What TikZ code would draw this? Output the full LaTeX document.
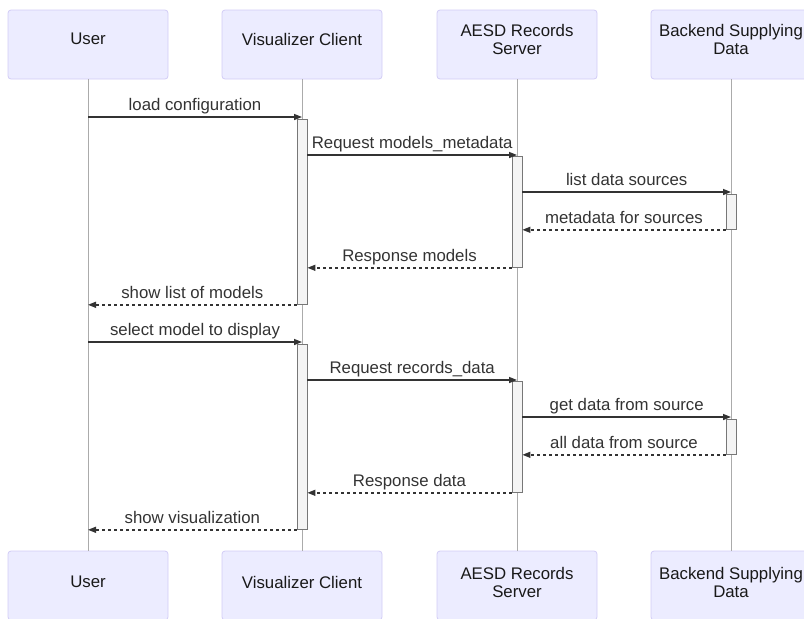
\documentclass[tikz,border=0pt]{standalone}
\usepackage{fontspec}
\setmainfont{Liberation Sans}
\usetikzlibrary{arrows.meta}
\definecolor{actorfill}{HTML}{ECECFF}
\definecolor{actorline}{HTML}{D2CCF6}
\definecolor{lifegray}{HTML}{ABABAB}
\definecolor{barfill}{HTML}{F4F4F4}
\definecolor{bargray}{HTML}{777777}
\definecolor{msggray}{HTML}{333333}
\begin{document}
\begin{tikzpicture}[x=1pt,y=-1pt,
    actor/.style={draw=actorline, fill=actorfill, rounded corners=3pt, line width=0.8pt,
        minimum width=160pt, minimum height=69pt, inner sep=0pt},
    actortext/.style={align=center, text=black!90, font=\fontsize{16.8}{18}\selectfont},
    life/.style={draw=lifegray, line width=0.7pt},
    bar/.style={draw=bargray, fill=barfill, line width=0.8pt, anchor=north,
        minimum width=10pt, inner sep=0pt},
    call/.style={draw=msggray, line width=1.4pt, -{Triangle[length=8pt,width=6pt]}},
    reply/.style={call, dash pattern=on 3pt off 3pt},
    msgtext/.style={midway, anchor=base, yshift=6.5pt, text=msggray,
        font=\fontsize{16.8}{18}\selectfont}]
    \useasboundingbox (0,0) rectangle (804,619);
    \clip (0,0) rectangle (804,619);

    \node[actor] (user)    at (88,44.5)  {};
    \node[actor] (client)  at (302,44.5) {};
    \node[actor] (server)  at (517,44.5) {};
    \node[actor] (backend) at (731,44.5) {};
    \node[actor] (user b)    at (88,585.5)  {};
    \node[actor] (client b)  at (302,585.5) {};
    \node[actor] (server b)  at (517,585.5) {};
    \node[actor] (backend b) at (731,585.5) {};

    \node[actortext] (user t)      at ([yshift=5.5pt]user.center)      {User};
    \node[actortext] (client t)    at ([yshift=5.5pt]client.center)    {Visualizer Client};
    \node[actortext] (server t)    at ([yshift=5.5pt]server.center)    {AESD Records\\Server};
    \node[actortext] (backend t)   at ([yshift=5.5pt]backend.center)   {Backend Supplying\\Data};
    \node[actortext] (user bt)     at ([yshift=3.5pt]user b.center)    {User};
    \node[actortext] (client bt)   at ([yshift=3.5pt]client b.center)  {Visualizer Client};
    \node[actortext] (server bt)   at ([yshift=3.5pt]server b.center)  {AESD Records\\Server};
    \node[actortext] (backend bt)  at ([yshift=3.5pt]backend b.center) {Backend Supplying\\Data};

    \draw[life] (user.south)    -- (user b.north);
    \draw[life] (client.south)  -- (client b.north);
    \draw[life] (server.south)  -- (server b.north);
    \draw[life] (backend.south) -- (backend b.north);

    \node[bar, minimum height=185pt] (c1) at (302,119) {};
    \node[bar, minimum height=111pt] (s1) at (517,156) {};
    \node[bar, minimum height=35pt]  (b1) at (731,194) {};
    \node[bar, minimum height=185pt] (c2) at (302,344) {};
    \node[bar, minimum height=111pt] (s2) at (517,381) {};
    \node[bar, minimum height=35pt]  (b2) at (731,419) {};

    \draw[call]  (user |- 0,117) -- (client |- 0,117) node[msgtext] {load configuration};
    \draw[call]  (c1.east |- 0,155) -- (server |- 0,155) node[msgtext] {Request models\_metadata};
    \draw[call]  (s1.east |- 0,192) -- (backend |- 0,192) node[msgtext] {list data sources};
    \draw[reply] (b1.south west) -- (s1.east |- b1.south west) node[msgtext] {metadata for sources};
    \draw[reply] (s1.south west) -- (c1.east |- s1.south west) node[msgtext] {Response models};
    \draw[reply] (c1.south west) -- (user |- c1.south west) node[msgtext] {show list of models};
    \draw[call]  (user |- 0,342) -- (client |- 0,342) node[msgtext] {select model to display};
    \draw[call]  (c2.east |- 0,380) -- (server |- 0,380) node[msgtext] {Request records\_data};
    \draw[call]  (s2.east |- 0,417) -- (backend |- 0,417) node[msgtext] {get data from source};
    \draw[reply] (b2.south west) -- (s2.east |- b2.south west) node[msgtext] {all data from source};
    \draw[reply] (s2.south west) -- (c2.east |- s2.south west) node[msgtext] {Response data};
    \draw[reply] (c2.south west) -- (user |- c2.south west) node[msgtext] {show visualization};
\end{tikzpicture}
\end{document}
